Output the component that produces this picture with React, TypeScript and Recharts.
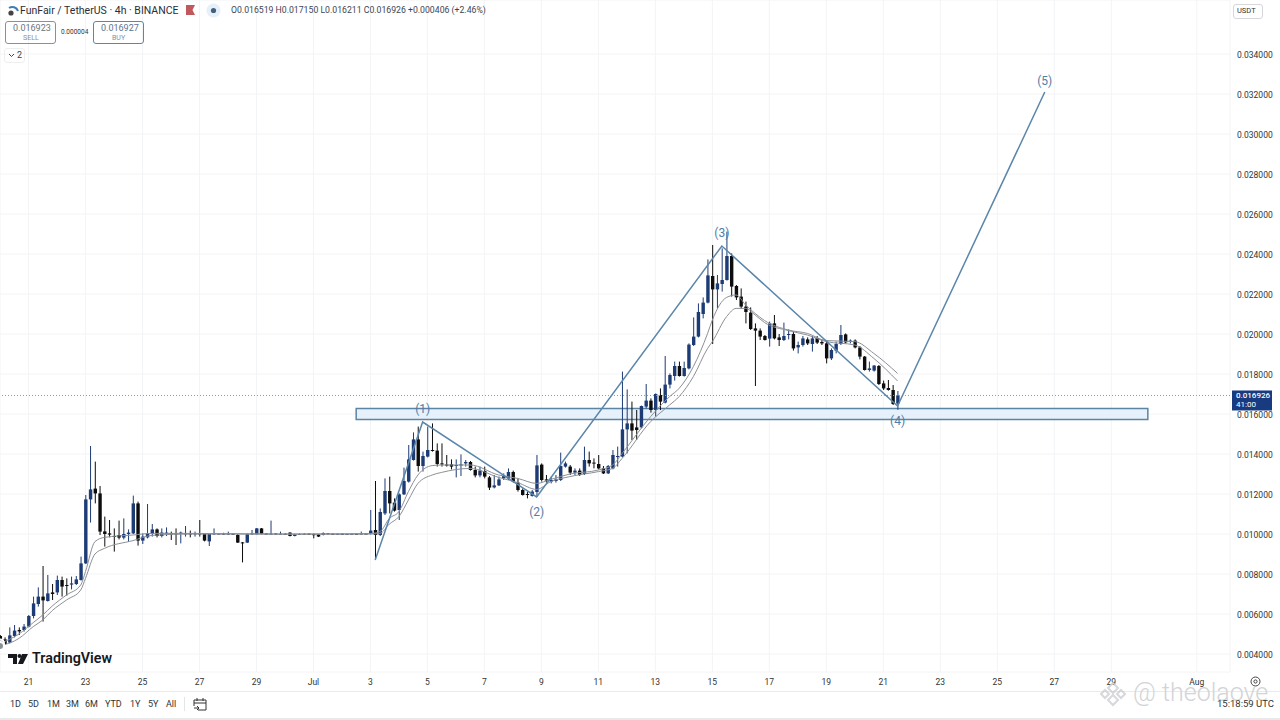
import React from "react";
import {
  Bar,
  CartesianGrid,
  ComposedChart,
  Line,
  ReferenceArea,
  ReferenceDot,
  ReferenceLine,
  XAxis,
  YAxis,
} from "recharts";

// FUN/USDT 4h candles, one per bar, values in 1e-5 USDT.
const PRICE_UNIT = 1e-5;

const opens = [
  490, 473, 457, 490, 520, 520, 537, 590, 650, 687,
  665, 708, 708, 770, 745, 747, 750, 770, 853, 1173,
  1227, 1203, 1013, 1003, 990, 995, 982, 1000, 1003, 1153,
  967, 983, 1000, 1023, 990, 1002, 1003, 1003, 1000, 1000,
  1003, 1000, 1003, 1000, 963, 998, 1000, 1002, 1000, 1002,
  995, 958, 957, 1000, 998, 1028, 1002, 1000, 1002, 1000,
  1001, 1007, 990, 998, 1000, 1001, 1000, 998, 995, 1003,
  1001, 1000, 1001, 999, 1000, 1001, 1000, 1002, 1000, 1020,
  995, 1103, 1215, 1157, 1120, 1198, 1262, 1370, 1473, 1340,
  1387, 1420, 1417, 1353, 1347, 1348, 1340, 1343, 1353, 1360,
  1320, 1293, 1315, 1283, 1233, 1243, 1278, 1277, 1310, 1257,
  1220, 1200, 1190, 1210, 1347, 1273, 1262, 1265, 1270, 1337,
  1337, 1307, 1317, 1300, 1370, 1357, 1350, 1328, 1303, 1328,
  1385, 1387, 1523, 1553, 1533, 1533, 1637, 1667, 1620, 1695,
  1657, 1747, 1790, 1840, 1790, 1828, 1945, 1987, 2100, 2157,
  2290, 2223, 2250, 2270, 2390, 2240, 2187, 2137, 2107, 2028,
  2017, 1990, 1977, 2053, 1983, 1970, 1995, 2000, 1933, 1945,
  1973, 1950, 1980, 1960, 1953, 1878, 1917, 1950, 1998, 1960,
  1967, 1933, 1887, 1820, 1817, 1840, 1753, 1730, 1720, 1651.9,
];

const highs = [
  495, 483, 533, 545, 533, 550, 595, 687, 733, 840,
  795, 750, 792, 787, 778, 787, 790, 887, 1195, 1440,
  1362, 1240, 1087, 1070, 1028, 1067, 1078, 1023, 1192, 1162,
  1003, 1150, 1050, 1028, 1028, 1033, 1012, 1028, 1012, 1040,
  1017, 1012, 1070, 1003, 1003, 1028, 1005, 1006, 1012, 1005,
  1000, 960, 1003, 1020, 1030, 1030, 1005, 1067, 1005, 1012,
  1004, 1009, 1001, 1003, 1004, 1004, 1002, 1000, 1008, 1005,
  1003, 1003, 1003, 1002, 1003, 1003, 1012, 1004, 1120, 1265,
  1128, 1278, 1287, 1178, 1203, 1332, 1445, 1508, 1537, 1412,
  1537, 1553, 1453, 1453, 1395, 1373, 1373, 1398, 1370, 1365,
  1337, 1337, 1337, 1290, 1295, 1287, 1303, 1328, 1317, 1278,
  1228, 1212, 1220, 1395, 1353, 1295, 1287, 1295, 1407, 1362,
  1345, 1328, 1328, 1437, 1412, 1378, 1395, 1340, 1345, 1420,
  1437, 1812, 1723, 1662, 1620, 1642, 1750, 1678, 1703, 1728,
  1890, 1803, 1862, 1862, 1862, 1953, 2083, 2153, 2183, 2373,
  2445, 2295, 2428, 2512, 2403, 2245, 2228, 2162, 2133, 2053,
  2028, 1995, 2062, 2095, 2000, 2057, 2023, 2012, 1962, 1990,
  1983, 1990, 1990, 1973, 1962, 1928, 1962, 2045, 2003, 1973,
  1973, 1940, 1890, 1862, 1845, 1845, 1767, 1770, 1745, 1715,
];

const lows = [
  453, 445, 453, 483, 495, 512, 533, 578, 637, 562,
  662, 670, 695, 687, 692, 723, 745, 767, 850, 1057,
  1153, 995, 937, 983, 912, 973, 973, 960, 1000, 942,
  950, 978, 987, 983, 983, 990, 970, 945, 953, 987,
  983, 987, 987, 963, 940, 995, 997, 997, 995, 995,
  955, 858, 955, 995, 997, 998, 998, 995, 997, 997,
  996, 988, 988, 996, 997, 996, 978, 985, 993, 999,
  998, 998, 997, 997, 998, 998, 998, 999, 998, 870,
  990, 1095, 1103, 1112, 1070, 1195, 1257, 1367, 1312, 1312,
  1383, 1412, 1337, 1337, 1337, 1323, 1283, 1290, 1337, 1317,
  1283, 1283, 1278, 1220, 1228, 1240, 1270, 1270, 1257, 1212,
  1192, 1178, 1187, 1187, 1262, 1257, 1253, 1257, 1265, 1332,
  1295, 1295, 1290, 1295, 1337, 1328, 1323, 1300, 1300, 1323,
  1337, 1383, 1403, 1470, 1470, 1528, 1628, 1607, 1587, 1620,
  1653, 1728, 1767, 1787, 1787, 1823, 1940, 1983, 2078, 2153,
  1950, 2128, 2212, 2267, 2187, 2170, 2128, 2053, 2020, 1740,
  1970, 1967, 1937, 1973, 1940, 1965, 1973, 1917, 1903, 1937,
  1945, 1912, 1950, 1945, 1853, 1870, 1903, 1945, 1953, 1953,
  1928, 1873, 1817, 1812, 1812, 1745, 1720, 1717, 1645, 1621.1,
];

const closes = [
  470, 450, 493, 517, 513, 537, 590, 653, 687, 668,
  703, 700, 770, 737, 740, 753, 773, 853, 1173, 1223,
  1203, 1012, 1000, 997, 987, 982, 1000, 1007, 1153, 967,
  987, 1003, 1023, 990, 1007, 1007, 1000, 1000, 1007, 1003,
  1000, 1003, 1000, 967, 1000, 1003, 1002, 1000, 1002, 998,
  957, 955, 1000, 1003, 1028, 1000, 1000, 1002, 1000, 1001,
  999, 990, 998, 1000, 1001, 999, 994, 987, 1005, 1001,
  1000, 1001, 999, 1000, 1001, 1000, 1002, 1001, 1017, 995,
  1110, 1215, 1153, 1117, 1198, 1265, 1373, 1473, 1340, 1390,
  1420, 1415, 1350, 1350, 1344, 1337, 1345, 1348, 1360, 1320,
  1293, 1317, 1287, 1232, 1243, 1273, 1290, 1310, 1262, 1220,
  1195, 1195, 1212, 1343, 1270, 1267, 1270, 1273, 1340, 1353,
  1307, 1317, 1295, 1370, 1353, 1352, 1328, 1303, 1340, 1395,
  1390, 1523, 1553, 1517, 1520, 1640, 1667, 1620, 1700, 1662,
  1747, 1795, 1840, 1790, 1830, 1947, 1987, 2110, 2157, 2293,
  2223, 2253, 2270, 2390, 2237, 2183, 2137, 2110, 2025, 2017,
  1987, 1970, 2053, 1978, 1970, 1990, 2000, 1928, 1945, 1978,
  1953, 1978, 1957, 1953, 1878, 1920, 1950, 1995, 1958, 1967,
  1933, 1887, 1820, 1828, 1842, 1750, 1728, 1720, 1650, 1692.6,
];

// The two moving averages, sampled at these bars and joined with a smooth line.
const emaBars = [
  0, 4, 7, 9, 11, 14, 17, 18, 20, 22, 28, 32, 40, 60, 78, 80, 82, 84, 86, 88, 91, 93, 99, 105,
  109, 113, 116, 120, 126, 129, 131, 137, 141, 143, 146, 149, 150, 153, 155, 157, 159, 161, 166,
  170, 174, 180, 184, 189,
];
const emaUpper = [
  453, 500, 557, 595, 640, 695, 745, 812, 962, 983, 995, 1003, 1003, 1000, 1002, 1012, 1078, 1112,
  1212, 1295, 1342, 1345, 1345, 1295, 1278, 1253, 1273, 1300, 1320, 1345, 1403, 1587, 1687, 1728,
  1837, 2003, 2070, 2183, 2195, 2145, 2103, 2067, 2020, 2003, 1967, 1962, 1903, 1803,
];
const emaLower = [
  440, 478, 537, 570, 617, 670, 720, 778, 900, 928, 967, 993, 1000, 999, 1000, 1003, 1050, 1087,
  1170, 1253, 1295, 1308, 1328, 1283, 1257, 1223, 1262, 1287, 1312, 1328, 1378, 1562, 1645, 1687,
  1787, 1928, 1962, 2087, 2128, 2128, 2095, 2057, 2017, 1995, 1962, 1945, 1878, 1765,
];

// Elliott wave drawing
const waveBars = [79, 89, 113, 152, 189, 220];
const waveValues = [870, 1560, 1185, 2440, 1640, 3210];
const waveLabels = ["", "(1)", "(2)", "(3)", "(4)", "(5)"];
const waveLabelOffsets = [0, 9, 10, 9, 10, 7];

const priceTicks = [
  0.004, 0.006, 0.008, 0.01, 0.012, 0.014, 0.016, 0.018, 0.02, 0.022, 0.024, 0.026, 0.028, 0.03,
  0.032, 0.034,
];
const dayTicks = [6, 18, 30, 42, 54, 66, 78, 90, 102, 114, 126, 138, 150, 162, 174, 186, 198, 210, 222, 234, 252];
const dayLabels = ["21", "23", "25", "27", "29", "Jul", "3", "5", "7", "9", "11", "13", "15", "17", "19", "21", "23", "25", "27", "29", "Aug"];
const rangeButtons = ["1D", "5D", "1M", "3M", "6M", "YTD", "1Y", "5Y", "All"];

const LAST_PRICE = 0.016926;
const ZONE_TOP = 0.01627;
const ZONE_BOTTOM = 0.01572;
const ZONE_FROM_BAR = 75;
const ZONE_TO_BAR = 241.7;

const UP = "#1d3b75";
const DOWN = "#0d0d0d";
const WAVE = "#5b86ab";

type Row = {
  i: number;
  open?: number;
  high?: number;
  low?: number;
  close?: number;
  upper?: number;
  lower?: number;
  wave?: number;
};

const rows: Row[] = Array.from({ length: 221 }, (_, i) => {
  const row: Row = { i };
  if (i < opens.length) {
    row.open = opens[i] * PRICE_UNIT;
    row.high = highs[i] * PRICE_UNIT;
    row.low = lows[i] * PRICE_UNIT;
    row.close = closes[i] * PRICE_UNIT;
  }
  const e = emaBars.indexOf(i);
  if (e >= 0) {
    row.upper = emaUpper[e] * PRICE_UNIT;
    row.lower = emaLower[e] * PRICE_UNIT;
  }
  const w = waveBars.indexOf(i);
  if (w >= 0) row.wave = waveValues[w] * PRICE_UNIT;
  return row;
});

// Bar gets the low..high range, the body is placed inside it from open/close.
function Candle(props: any) {
  const { x, y, width, height, payload } = props;
  if (payload == null || payload.open == null) return null;
  const { open, high, low, close } = payload;
  const color = close >= open ? UP : DOWN;
  const perPrice = height / (high - low);
  const top = y + (high - Math.max(open, close)) * perPrice;
  const bodyH = Math.max(Math.abs(open - close) * perPrice, 1);
  const cx = x + width / 2;
  return (
    <g>
      <line x1={cx} x2={cx} y1={y} y2={y + height} stroke={color} strokeWidth={1} />
      <rect x={x} y={top} width={width} height={bodyH} fill={color} />
    </g>
  );
}

function PriceTag(props: any) {
  const { viewBox } = props;
  const x = viewBox.x + viewBox.width + 2;
  const y = viewBox.y - 5;
  return (
    <g>
      <rect x={x} y={y} width={40} height={20} fill="#173a80" />
      <text x={x + 4} y={y + 8} fontSize={8} fontWeight={500} fill="#fff">
        {LAST_PRICE.toFixed(6)}
      </text>
      <text x={x + 4} y={y + 17} fontSize={8} fill="#fff">
        41:00
      </text>
    </g>
  );
}

function Txt({
  x,
  y,
  size = 9,
  color = "#333",
  weight = 400,
  children,
}: {
  x: number;
  y: number;
  size?: number;
  color?: string;
  weight?: number;
  children: React.ReactNode;
}) {
  return (
    <span
      style={{
        position: "absolute",
        left: x,
        top: y,
        fontSize: size,
        lineHeight: `${size + 2}px`,
        color,
        fontWeight: weight,
        whiteSpace: "nowrap",
      }}
    >
      {children}
    </span>
  );
}

function Box({ x, y, w, h, border = "#8a8f99", radius = 3 }: { x: number; y: number; w: number; h: number; border?: string; radius?: number }) {
  return (
    <div
      style={{
        position: "absolute",
        left: x,
        top: y,
        width: w,
        height: h,
        boxSizing: "border-box",
        border: `1px solid ${border}`,
        borderRadius: radius,
      }}
    />
  );
}

function Header() {
  return (
    <>
      <svg style={{ position: "absolute", left: 6, top: 3 }} width={14} height={14}>
        <circle cx={5} cy={10} r={2.6} fill="#444" />
        <path d="M3 5 A6 6 0 0 1 12 8" fill="none" stroke="#3b7fb5" strokeWidth={2} />
      </svg>
      <Txt x={20} y={5} size={10.5} color="#2a2e39">
        FunFair / TetherUS · 4h · BINANCE
      </Txt>
      <svg style={{ position: "absolute", left: 186, top: 5 }} width={10} height={11}>
        <path d="M0 0 H9 L6.5 5 L9 10 H0 Z" fill="#c0595d" />
      </svg>
      <svg style={{ position: "absolute", left: 206, top: 3 }} width={15} height={15}>
        <circle cx={7.5} cy={7.5} r={7} fill="#e6f0f8" />
        <circle cx={7.5} cy={7.5} r={2.6} fill="#44607c" />
      </svg>
      <Txt x={231} y={5} size={8.7} color="#3d4552">
        O0.016519 H0.017150 L0.016211 C0.016926 +0.000406 (+2.46%)
      </Txt>

      <Box x={5} y={21} w={51} h={23} />
      <Txt x={13} y={23} size={9} color="#6d7480">
        0.016923
      </Txt>
      <Txt x={23} y={34} size={7} color="#8a9099">
        SELL
      </Txt>
      <Txt x={61} y={28} size={6.5} color="#333">
        0.000004
      </Txt>
      <Box x={93} y={21} w={51} h={23} border="#5f86a8" />
      <Txt x={101} y={23} size={9} color="#5a7390">
        0.016927
      </Txt>
      <Txt x={112} y={34} size={7} color="#7d93aa">
        BUY
      </Txt>
      <Box x={4} y={48} w={21} h={15} border="#eeeeee" />
      <svg style={{ position: "absolute", left: 8, top: 53 }} width={7} height={5}>
        <path d="M1 1 L3.5 3.5 L6 1" fill="none" stroke="#444" strokeWidth={1} />
      </svg>
      <Txt x={17} y={50} size={9} color="#444">
        2
      </Txt>

      <Box x={1233} y={4} w={30} h={15} border="#d5d7db" />
      <Txt x={1237} y={6} size={7.5} color="#333">
        USDT
      </Txt>
    </>
  );
}

function Footer() {
  const xs = [10, 28, 47, 66, 85, 105, 130, 148, 166];
  return (
    <>
      <svg style={{ position: "absolute", left: 8, top: 653 }} width={22} height={12}>
        <path d="M0 1 H9 V11 H5 V5 H0 Z M14 1 H20 L15 11 H10 Z" fill="#16181d" />
        <circle cx={11.5} cy={3} r={2} fill="#16181d" />
      </svg>
      <Txt x={32} y={650} size={14.3} color="#16181d" weight={600}>
        TradingView
      </Txt>

      <div style={{ position: "absolute", left: 0, top: 691, width: 1280, height: 1, background: "#e9eaec" }} />
      {rangeButtons.map((b, k) => (
        <Txt key={b} x={xs[k]} y={699} size={9} color="#333">
          {b}
        </Txt>
      ))}
      <div style={{ position: "absolute", left: 184, top: 697, width: 1, height: 14, background: "#e4e5e8" }} />
      <svg style={{ position: "absolute", left: 193, top: 697 }} width={14} height={14}>
        <path d="M1 3 H13 V13 H5 M1 3 V9 M1 6 H13 M4 1 V4 M10 1 V4 M1 11 H6 M4 9 L6 11 L4 13" fill="none" stroke="#333" strokeWidth={1} />
      </svg>
      <svg style={{ position: "absolute", left: 1250, top: 676 }} width={11} height={11}>
        <circle cx={5.5} cy={5.5} r={4.5} fill="none" stroke="#444" strokeWidth={1} />
        <circle cx={5.5} cy={5.5} r={1.6} fill="none" stroke="#444" strokeWidth={1} />
      </svg>
      <div style={{ position: "absolute", left: 0, top: 718, width: 1280, height: 2, background: "#e8e9eb" }} />

      {/* watermark */}
      <svg style={{ position: "absolute", left: 1099, top: 680 }} width={28} height={28} opacity={0.75}>
        <g fill="none" stroke="#c9cbcf" strokeWidth={2}>
          <path d="M14 3 L19 8 L14 13 L9 8 Z" />
          <path d="M6 10 L10 14 L6 18 L2 14 Z" />
          <path d="M22 10 L26 14 L22 18 L18 14 Z" />
          <path d="M14 15 L19 20 L14 25 L9 20 Z" />
        </g>
      </svg>
      <Txt x={1133} y={679} size={25} color="#d2d4d7" weight={300}>
        @ theolaove
      </Txt>
      <Txt x={1217} y={698} size={9.5} color="#333">
        15:18:59 UTC
      </Txt>
    </>
  );
}

export default function App() {
  return (
    <div
      style={{
        position: "absolute",
        left: 0,
        top: 0,
        width: 1280,
        height: 720,
        background: "#fff",
        overflow: "hidden",
        fontFamily: "Roboto, sans-serif",
      }}
    >
      <ComposedChart width={1280} height={720} data={rows} margin={{ top: 0, right: 0, bottom: 28, left: 0 }}>
        <CartesianGrid stroke="#f3f4f6" strokeWidth={1} />
        <XAxis
          dataKey="i"
          type="number"
          domain={[0, 259]}
          allowDataOverflow
          ticks={dayTicks}
          interval={0}
          height={20}
          tickFormatter={(v: number) => dayLabels[dayTicks.indexOf(v)]}
          tick={{ fontSize: 8.5, fill: "#333" }}
          tickLine={false}
          axisLine={false}
          tickMargin={1}
        />
        <YAxis
          orientation="right"
          type="number"
          width={50}
          domain={[0.0031, 0.0367]}
          allowDataOverflow
          ticks={priceTicks}
          interval={0}
          tickFormatter={(v: number) => v.toFixed(6)}
          tick={{ fontSize: 8.5, fill: "#333", dy: 1 }}
          tickLine={false}
          axisLine={false}
          tickMargin={1}
        />
        <ReferenceArea
          x1={ZONE_FROM_BAR}
          x2={ZONE_TO_BAR}
          y1={ZONE_BOTTOM}
          y2={ZONE_TOP}
          fill="#e2eefa"
          fillOpacity={0.85}
          stroke="#5b84a5"
          strokeWidth={1.5}
        />
        <ReferenceLine y={LAST_PRICE} stroke="#999" strokeDasharray="1 2" label={<PriceTag />} />
        <Bar
          dataKey={(r: Row) => (r.low == null ? null : [r.low, r.high])}
          barSize={3.4}
          shape={<Candle />}
          isAnimationActive={false}
        />
        <Line dataKey="upper" type="monotone" stroke="#8b9097" strokeWidth={1} dot={false} connectNulls isAnimationActive={false} />
        <Line dataKey="lower" type="monotone" stroke="#8b9097" strokeWidth={1} dot={false} connectNulls isAnimationActive={false} />
        <Line dataKey="wave" type="linear" stroke={WAVE} strokeWidth={1.5} dot={false} connectNulls isAnimationActive={false} />
        {waveBars.map((b, k) =>
          waveLabels[k] ? (
            <ReferenceDot
              key={b}
              x={b}
              y={waveValues[k] * PRICE_UNIT}
              r={0}
              stroke="none"
              label={{
                value: waveLabels[k],
                position: k === 2 || k === 4 ? "bottom" : "top",
                offset: waveLabelOffsets[k],
                fontSize: 12,
                fill: "#4f7ea6",
              }}
            />
          ) : null,
        )}
      </ComposedChart>
      <Header />
      <Footer />
    </div>
  );
}
